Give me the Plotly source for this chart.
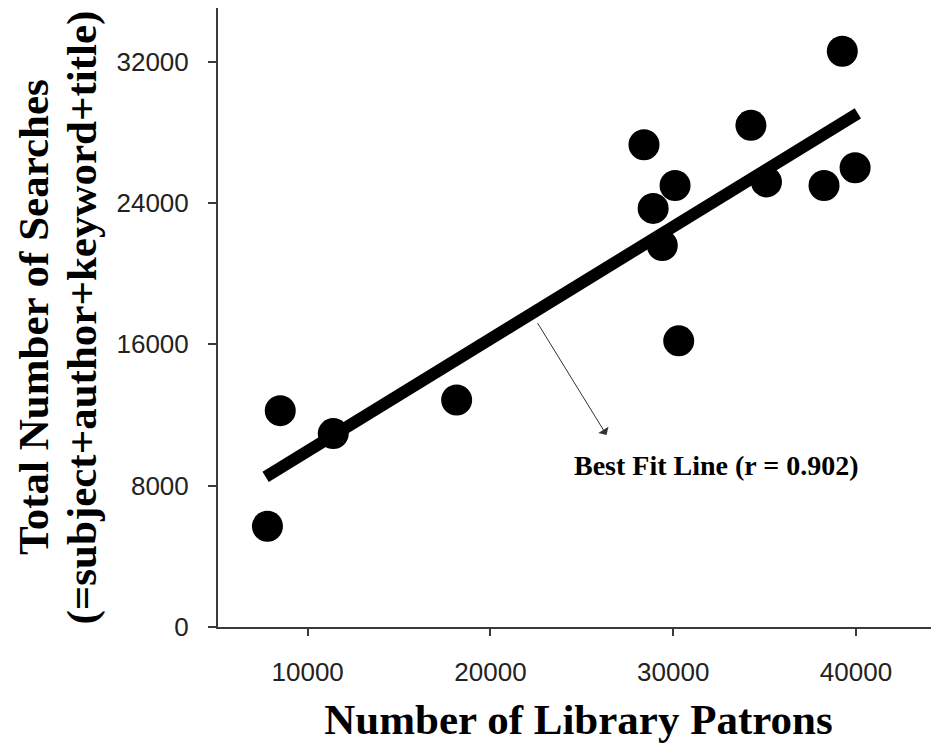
import plotly.graph_objects as go

# Number of library patrons vs total searches
patrons = [7800, 8500, 11400, 18150, 28400, 28900, 29400, 30100, 30300, 34250, 35100, 38250, 39250, 39950]
searches = [5700, 12250, 10950, 12850, 27300, 23700, 21600, 25000, 16200, 28400, 25200, 25000, 32600, 26000]

# best fit line ends
fit_x = [7700, 40100]
fit_y = [8500, 29080]

x_ticks = [10000, 20000, 30000, 40000]
y_ticks = [0, 8000, 16000, 24000, 32000]

ink = '#3a3a3a'
tick_font = dict(family='Liberation Sans, Arial', size=26, color='#222222')
title_font = dict(family='Liberation Serif, Times New Roman, serif', size=43, color='black')

fig = go.Figure()

fig.add_trace(go.Scatter(x=fit_x, y=fit_y, mode='lines',
                         line=dict(color='black', width=12), hoverinfo='skip'))

fig.add_trace(go.Scatter(x=patrons, y=searches, mode='markers',
                         marker=dict(color='black', size=31, line=dict(width=0))))

# arrow pointing at the fit line, and its label
fig.add_annotation(x=26350, y=10870, ax=22530, ay=17290, axref='x', ayref='y',
                   text='', showarrow=True, arrowhead=1, arrowsize=2,
                   arrowwidth=1, arrowcolor='#333333')
fig.add_annotation(x=32370, y=9170, text='<b>Best Fit Line (r = 0.902)</b>', showarrow=False,
                   font=dict(family='Liberation Serif, Times New Roman, serif', size=28, color='black'))

# y title as two separately placed lines
fig.add_annotation(xref='paper', yref='paper', x=0, y=0.5, xshift=-210, textangle=-90,
                   text='<b>Total Number of Searches</b>', showarrow=False, font=title_font)
fig.add_annotation(xref='paper', yref='paper', x=0, y=0.5, xshift=-163, textangle=-90,
                   text='<b>(=subject+author+keyword+title)</b>', showarrow=False, font=title_font)

# page body keeps an 8px default margin, so the figure is sized for what is left
fig.update_layout(
    width=931, height=739,
    margin=dict(l=210, r=0, t=0, b=120),
    paper_bgcolor='white', plot_bgcolor='white',
    showlegend=False,
    xaxis=dict(range=[5094, 44540], tickvals=x_ticks, ticktext=[str(v) for v in x_ticks],
               showgrid=False, zeroline=False, showline=True, linecolor=ink, linewidth=2,
               mirror=True, ticks='outside', ticklen=7, tickwidth=2, tickcolor=ink,
               tickfont=tick_font, ticklabelstandoff=14, automargin=False,
               title=dict(text='<b>Number of Library Patrons</b>', font=title_font, standoff=18)),
    yaxis=dict(range=[0, 35045], tickvals=y_ticks, ticktext=[str(v) for v in y_ticks],
               showgrid=False, zeroline=False, showline=True, linecolor=ink, linewidth=2,
               ticks='outside', ticklen=8, tickwidth=2, tickcolor=ink,
               tickfont=tick_font, ticklabelstandoff=14, automargin=False),
)

fig.write_html("out.html")
